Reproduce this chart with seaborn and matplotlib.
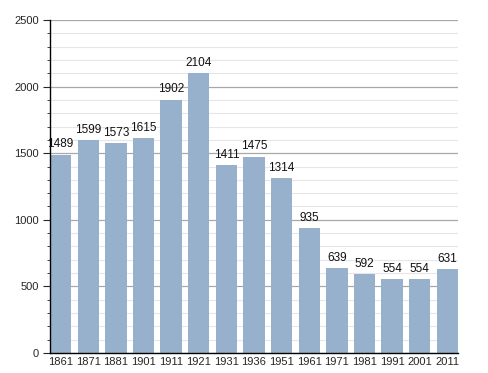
import numpy as np
import pandas as pd
import matplotlib
matplotlib.use("Agg")
import matplotlib.pyplot as plt
import seaborn as sns
from matplotlib.ticker import MultipleLocator

# data
years = ["1861", "1871", "1881", "1901", "1911", "1921", "1931", "1936",
         "1951", "1961", "1971", "1981", "1991", "2001", "2011"]
population = [1489, 1599, 1573, 1615, 1902, 2104, 1411, 1475,
              1314, 935, 639, 592, 554, 554, 631]

df = pd.DataFrame({"year": years, "pop": population})

sns.set_style("white")
plt.rcParams['font.family'] = ['Liberation Sans', 'DejaVu Sans']

fig = plt.figure(figsize=(4.88, 3.73), dpi=100)
ax = fig.add_axes([50 / 488, 20 / 373, 408 / 488, 333 / 373])
ax.set_axisbelow(True)

# grid first, bars on top
ax.set_ylim(0, 2500)
ax.yaxis.set_major_locator(MultipleLocator(500))
ax.yaxis.set_minor_locator(MultipleLocator(100))
ax.grid(axis="y", which="major", color="#a8a8a8", linewidth=0.9)
ax.grid(axis="y", which="minor", color="#e6e6e6", linewidth=0.8)

bw = 0.77
sns.barplot(data=df, x="year", y="pop", color="#97b1cc", saturation=1,
            width=bw, ax=ax, linewidth=0, edgecolor="none")

for i, v in enumerate(population):
    ax.annotate(str(v), (i, v), xytext=(0, 3), textcoords="offset points",
                ha="center", va="bottom", fontsize=8.5, color="#111111",
                annotation_clip=False)

ax.set_xlim(-bw / 2, len(years) - 1 + bw / 2)
ax.set_ylim(0, 2500)

for s in ["top", "right"]:
    ax.spines[s].set_visible(False)
for s in ["left", "bottom"]:
    ax.spines[s].set_color("black")
    ax.spines[s].set_linewidth(1.0)

ax.tick_params(axis="y", which="major", direction="out", length=5, width=0.8,
               labelsize=8, left=True, pad=3)
ax.tick_params(axis="y", which="minor", direction="out", length=2.5, width=0.6,
               left=True)
ax.tick_params(axis="x", length=0, labelsize=8, pad=3)
ax.set_xlabel("")
ax.set_ylabel("")

fig.savefig("out.png", dpi=100, facecolor="white")
